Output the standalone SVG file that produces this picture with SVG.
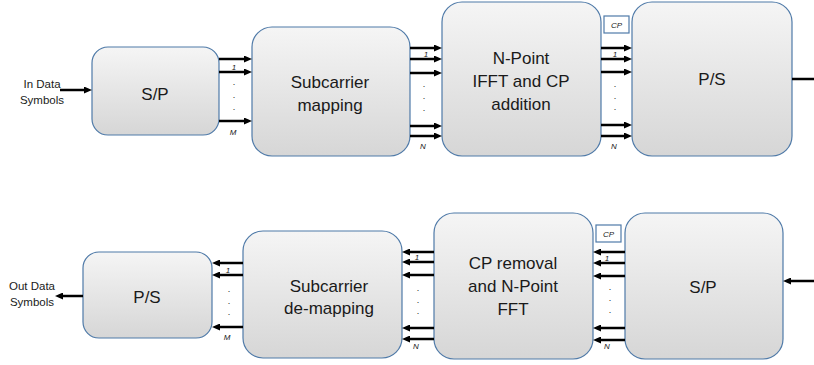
<svg xmlns="http://www.w3.org/2000/svg" width="814" height="365" viewBox="0 0 814 365">
<defs>
<linearGradient id="g" x1="0" y1="0" x2="0" y2="1">
<stop offset="0" stop-color="#f5f5f5"/>
<stop offset="1" stop-color="#d6d6d6"/>
</linearGradient>
<marker id="ah" viewBox="0 0 8 7" markerWidth="8" markerHeight="7" refX="0" refY="3.5" markerUnits="userSpaceOnUse" orient="auto">
<path d="M0,0 L8,3.5 L0,7 z" fill="#000"/>
</marker>
</defs>
<style>
.box{fill:url(#g);stroke:#4f7aa8;stroke-width:1.2}
.cp{fill:#fff;stroke:#4f7aa8;stroke-width:1.2}
.t{font-family:"Liberation Sans",Arial,sans-serif;font-size:17px;fill:#1a1a1a;text-anchor:middle}
.s{font-family:"Liberation Sans",Arial,sans-serif;font-size:11.5px;fill:#1a1a1a;text-anchor:middle}
.l{font-family:"Liberation Sans",Arial,sans-serif;font-size:8px;font-style:italic;fill:#1a1a1a;text-anchor:middle}
.d{font-family:"Liberation Sans",Arial,sans-serif;font-size:9px;fill:#1a1a1a;text-anchor:middle}
.a{stroke:#000;stroke-width:2.5;fill:none;marker-end:url(#ah)}
.n{stroke:#000;stroke-width:2.5;fill:none}
</style>

<g id="tx-sp">
<rect class="box" x="92" y="47" width="127" height="88" rx="16"/>
<text class="t" x="155" y="100">S/P</text>
</g>
<g id="tx-map">
<rect class="box" x="252" y="27" width="158" height="129" rx="20"/>
<text class="t" x="330" y="88">Subcarrier</text>
<text class="t" x="330" y="111">mapping</text>
</g>
<g id="tx-ifft">
<rect class="box" x="442" y="2" width="159" height="154" rx="20"/>
<text class="t" x="521" y="64">N-Point</text>
<text class="t" x="521" y="87">IFFT and CP</text>
<text class="t" x="521" y="110">addition</text>
</g>
<g id="tx-ps">
<rect class="box" x="632" y="2" width="160" height="154" rx="20"/>
<text class="t" x="712" y="85">P/S</text>
</g>
<g id="tx-cp">
<rect class="cp" x="604" y="16" width="25" height="17"/>
<text class="l" x="616.5" y="27.5">CP</text>
</g>
<g id="tx-in">
<text class="s" x="42" y="88">In Data</text>
<text class="s" x="42" y="104">Symbols</text>
</g>

<g id="rx-ps">
<rect class="box" x="83" y="252" width="129" height="86" rx="16"/>
<text class="t" x="147" y="303">P/S</text>
</g>
<g id="rx-demap">
<rect class="box" x="243" y="231" width="159" height="127" rx="20"/>
<text class="t" x="329" y="292">Subcarrier</text>
<text class="t" x="329" y="314">de-mapping</text>
</g>
<g id="rx-fft">
<rect class="box" x="434" y="213" width="159" height="146" rx="20"/>
<text class="t" x="513" y="269">CP removal</text>
<text class="t" x="513" y="292">and N-Point</text>
<text class="t" x="513" y="315">FFT</text>
</g>
<g id="rx-sp">
<rect class="box" x="625" y="213" width="158" height="146" rx="20"/>
<text class="t" x="703" y="293">S/P</text>
</g>
<g id="rx-cp">
<rect class="cp" x="596" y="225" width="25" height="17"/>
<text class="l" x="608.5" y="236.5">CP</text>
</g>
<g id="rx-out">
<text class="s" x="32" y="290">Out Data</text>
<text class="s" x="32" y="306">Symbols</text>
</g>

<g id="connectors">
<line class="a" x1="60" y1="90" x2="84" y2="90"/>
<line class="a" x1="219" y1="59" x2="244" y2="59"/>
<line class="a" x1="219" y1="72" x2="244" y2="72"/>
<line class="a" x1="219" y1="121" x2="244" y2="121"/>
<line class="a" x1="410" y1="48" x2="434" y2="48"/>
<line class="a" x1="410" y1="59" x2="434" y2="59"/>
<line class="a" x1="410" y1="73" x2="434" y2="73"/>
<line class="a" x1="410" y1="126" x2="434" y2="126"/>
<line class="a" x1="410" y1="136" x2="434" y2="136"/>
<line class="a" x1="601" y1="48" x2="624" y2="48"/>
<line class="a" x1="601" y1="59" x2="624" y2="59"/>
<line class="a" x1="601" y1="72" x2="624" y2="72"/>
<line class="a" x1="601" y1="125" x2="624" y2="125"/>
<line class="a" x1="601" y1="136" x2="624" y2="136"/>
<line class="n" x1="792" y1="79" x2="814" y2="79"/>

<line class="a" x1="814" y1="281" x2="791" y2="281"/>
<line class="a" x1="625" y1="252" x2="601" y2="252"/>
<line class="a" x1="625" y1="263" x2="601" y2="263"/>
<line class="a" x1="625" y1="276" x2="601" y2="276"/>
<line class="a" x1="625" y1="328" x2="601" y2="328"/>
<line class="a" x1="625" y1="340" x2="601" y2="340"/>
<line class="a" x1="434" y1="252" x2="410" y2="252"/>
<line class="a" x1="434" y1="262" x2="410" y2="262"/>
<line class="a" x1="434" y1="275" x2="410" y2="275"/>
<line class="a" x1="434" y1="328" x2="410" y2="328"/>
<line class="a" x1="434" y1="339" x2="410" y2="339"/>
<line class="a" x1="243" y1="263" x2="220" y2="263"/>
<line class="a" x1="243" y1="275" x2="220" y2="275"/>
<line class="a" x1="243" y1="327" x2="220" y2="327"/>
<line class="a" x1="83" y1="296" x2="63" y2="296"/>
</g>

<g id="labels">
<text class="l" x="234" y="69.5">1</text>
<text class="l" x="233" y="135">M</text>
<text class="d" x="234" y="85">.</text>
<text class="d" x="234" y="98">.</text>
<text class="d" x="234" y="110">.</text>

<text class="l" x="426" y="56.5">1</text>
<text class="l" x="423" y="149">N</text>
<text class="d" x="424" y="87">.</text>
<text class="d" x="424" y="99">.</text>
<text class="d" x="424" y="111">.</text>

<text class="l" x="615" y="56.5">1</text>
<text class="l" x="614" y="149">N</text>
<text class="d" x="615" y="87">.</text>
<text class="d" x="615" y="99">.</text>
<text class="d" x="615" y="110">.</text>

<text class="l" x="607" y="260.5">1</text>
<text class="l" x="607" y="349">N</text>
<text class="d" x="610" y="290">.</text>
<text class="d" x="610" y="301">.</text>
<text class="d" x="610" y="313">.</text>

<text class="l" x="417" y="259.5">1</text>
<text class="l" x="416" y="349">N</text>
<text class="d" x="418" y="291">.</text>
<text class="d" x="418" y="303">.</text>
<text class="d" x="418" y="314">.</text>

<text class="l" x="228" y="272.5">1</text>
<text class="l" x="227" y="340">M</text>
<text class="d" x="229" y="292">.</text>
<text class="d" x="229" y="304">.</text>
<text class="d" x="229" y="315">.</text>
</g>
</svg>
